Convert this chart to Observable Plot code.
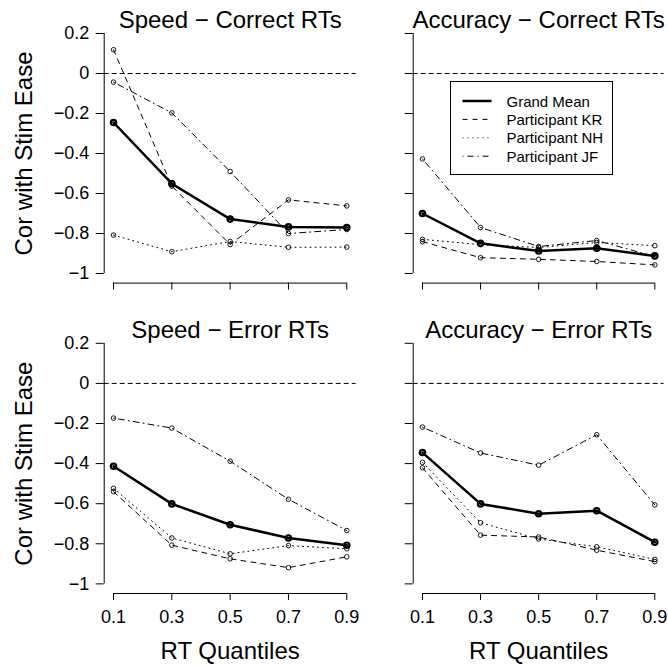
<!DOCTYPE html>
<html><head><meta charset="utf-8">
<script src="https://cdn.jsdelivr.net/npm/d3@7"></script>
<script src="https://cdn.jsdelivr.net/npm/@observablehq/plot@0.6"></script>
<style>
body{margin:0;background:#fff;font-family:"Liberation Sans",Arial,Helvetica,sans-serif;}
#chart{position:relative;width:668px;height:665px;overflow:hidden;background:#fff;}
#chart > svg{position:absolute;}
</style></head><body><div id="chart"></div>
<script>
const quantiles = [0.1, 0.3, 0.5, 0.7, 0.9];
const yTicks = [0.2, 0, -0.2, -0.4, -0.6, -0.8, -1];
const seriesNames = ["Grand Mean", "Participant KR", "Participant NH", "Participant JF"];
const panelTitles = ["Speed \u2212 Correct RTs", "Accuracy \u2212 Correct RTs", "Speed \u2212 Error RTs", "Accuracy \u2212 Error RTs"];
const yLabel = "Cor with Stim Ease";
const xLabel = "RT Quantiles";

const speedCorrectMean = [-0.245, -0.551, -0.728, -0.767, -0.770];
const speedCorrectKR   = [0.119, -0.563, -0.855, -0.632, -0.662];
const speedCorrectNH   = [-0.808, -0.891, -0.840, -0.869, -0.868];
const speedCorrectJF   = [-0.043, -0.197, -0.490, -0.800, -0.780];

const accCorrectMean = [-0.700, -0.849, -0.887, -0.874, -0.912];
const accCorrectKR   = [-0.841, -0.921, -0.929, -0.940, -0.957];
const accCorrectNH   = [-0.829, -0.856, -0.870, -0.845, -0.861];
const accCorrectJF   = [-0.427, -0.770, -0.865, -0.835, -0.915];

const speedErrorMean = [-0.413, -0.601, -0.705, -0.771, -0.807];
const speedErrorKR   = [-0.540, -0.807, -0.875, -0.919, -0.865];
const speedErrorNH   = [-0.523, -0.771, -0.850, -0.809, -0.825];
const speedErrorJF   = [-0.173, -0.223, -0.388, -0.578, -0.734];

const accErrorMean = [-0.345, -0.601, -0.650, -0.635, -0.792];
const accErrorKR   = [-0.421, -0.757, -0.766, -0.832, -0.889];
const accErrorNH   = [-0.394, -0.695, -0.776, -0.815, -0.878];
const accErrorJF   = [-0.218, -0.347, -0.408, -0.256, -0.606];

const font = '"Liberation Sans", Arial, Helvetica, sans-serif';
const styles = {
  "Grand Mean":     {width: 2.5, dash: null,       r: 2.7, sw: 2.2},
  "Participant KR": {width: 1,   dash: "5,5",      r: 2.3, sw: 0.9},
  "Participant NH": {width: 1,   dash: "1,4",      r: 2.3, sw: 0.9},
  "Participant JF": {width: 1,   dash: "1,4,6,4",  r: 2.3, sw: 0.9}
};

const xExt = (quantiles[quantiles.length - 1] - quantiles[0]) * 0.04;
const xDomain = [quantiles[0] - xExt, quantiles[quantiles.length - 1] + xExt];
const yMin = Math.min(...yTicks), yMax = Math.max(...yTicks);
const yExt = (yMax - yMin) * 0.04;
const yDomain = [yMin - yExt, yMax + yExt];
const fmt = d => d < 0 ? "\u2212" + Math.abs(d) : String(d);

function panel(cfg) {
  const {title, values, showY, showX, width, height, m} = cfg;
  const marks = [
    Plot.ruleY([0], {stroke: "black", strokeWidth: 1, strokeDasharray: "5,3"}),
    Plot.ruleX([xDomain[0]], {y1: yMin, y2: yMax, stroke: "black", strokeWidth: 1}),
    Plot.axisY({ticks: yTicks, tickSize: 8, tickPadding: 7, tickFormat: showY ? fmt : () => "", fontSize: 18, label: null, anchor: "left", stroke: "black", fill: "black"}),
    Plot.ruleY([yDomain[0]], {x1: quantiles[0], x2: quantiles[quantiles.length - 1], stroke: "black", strokeWidth: 1}),
    Plot.axisX({ticks: quantiles, tickSize: 7, tickPadding: 10, tickFormat: showX ? (d => String(d)) : () => "", fontSize: 18, label: null, anchor: "bottom", stroke: "black", fill: "black"}),
    Plot.text([title], {text: d => d, frameAnchor: "top", dy: 3.9, lineAnchor: "bottom", fontSize: 24, fill: "black"})
  ];
  if (showY) marks.push(Plot.text([yLabel], {text: d => d, frameAnchor: "left", dx: -72, rotate: -90, lineAnchor: "bottom", textAnchor: "middle", fontSize: 24, fill: "black"}));
  if (showX) marks.push(Plot.text([xLabel], {text: d => d, frameAnchor: "bottom", dy: 65.5, lineAnchor: "bottom", fontSize: 24, fill: "black"}));
  // participants first, grand mean on top
  const order = [1, 2, 3, 0];
  for (const i of order) {
    const name = seriesNames[i];
    const s = styles[name];
    const rows = quantiles.map((q, k) => ({q, v: values[i][k], series: name}));
    marks.push(Plot.line(rows, {x: "q", y: "v", stroke: "black", strokeWidth: s.width, strokeDasharray: s.dash || undefined}));
    marks.push(Plot.dot(rows, {x: "q", y: "v", r: s.r, stroke: "black", strokeWidth: s.sw, fill: "none"}));
  }
  return Plot.plot({
    width, height,
    marginTop: m[0], marginRight: m[1], marginBottom: m[2], marginLeft: m[3],
    x: {domain: xDomain},
    y: {domain: yDomain},
    style: {fontFamily: font, color: "black", background: "transparent", overflow: "visible"},
    marks
  });
}

const chart = document.getElementById("chart");
const layout = [
  {title: panelTitles[0], values: [speedCorrectMean, speedCorrectKR, speedCorrectNH, speedCorrectJF], showY: true,  showX: false, left: 0,   top: 0,   width: 384, height: 310, m: [23.4, 28.4, 27.4, 103.7]},
  {title: panelTitles[1], values: [accCorrectMean, accCorrectKR, accCorrectNH, accCorrectJF],       showY: false, showX: false, left: 384, top: 0,   width: 284, height: 310, m: [23.4, 4.4, 27.4, 28.7]},
  {title: panelTitles[2], values: [speedErrorMean, speedErrorKR, speedErrorNH, speedErrorJF],       showY: true,  showX: true,  left: 0,   top: 310, width: 384, height: 355, m: [23.2, 28.4, 72, 103.7]},
  {title: panelTitles[3], values: [accErrorMean, accErrorKR, accErrorNH, accErrorJF],               showY: false, showX: true,  left: 384, top: 310, width: 284, height: 355, m: [23.2, 4.4, 72, 28.7]}
];
for (const p of layout) {
  const svg = panel(p);
  svg.style.left = p.left + "px";
  svg.style.top = p.top + "px";
  chart.appendChild(svg);
}

// legend (inside the top-right panel)
const lg = d3.create("svg").attr("width", 164).attr("height", 95)
  .style("left", "450px").style("top", "81px").style("position", "absolute")
  .style("font-family", font);
lg.append("rect").attr("x", 0.5).attr("y", 0.5).attr("width", 162).attr("height", 93)
  .attr("fill", "white").attr("stroke", "black").attr("stroke-width", 1);
seriesNames.forEach((name, i) => {
  const s = styles[name];
  const cy = 20 + i * 18.4;
  lg.append("line").attr("x1", 12.5).attr("x2", 41.5).attr("y1", cy).attr("y2", cy)
    .attr("stroke", "black").attr("stroke-width", s.width)
    .attr("stroke-dasharray", s.dash);
  lg.append("text").attr("x", 56.5).attr("y", cy + 5.6).attr("font-size", 15)
    .attr("fill", "black").text(name);
});
chart.appendChild(lg.node());
</script></body></html>
